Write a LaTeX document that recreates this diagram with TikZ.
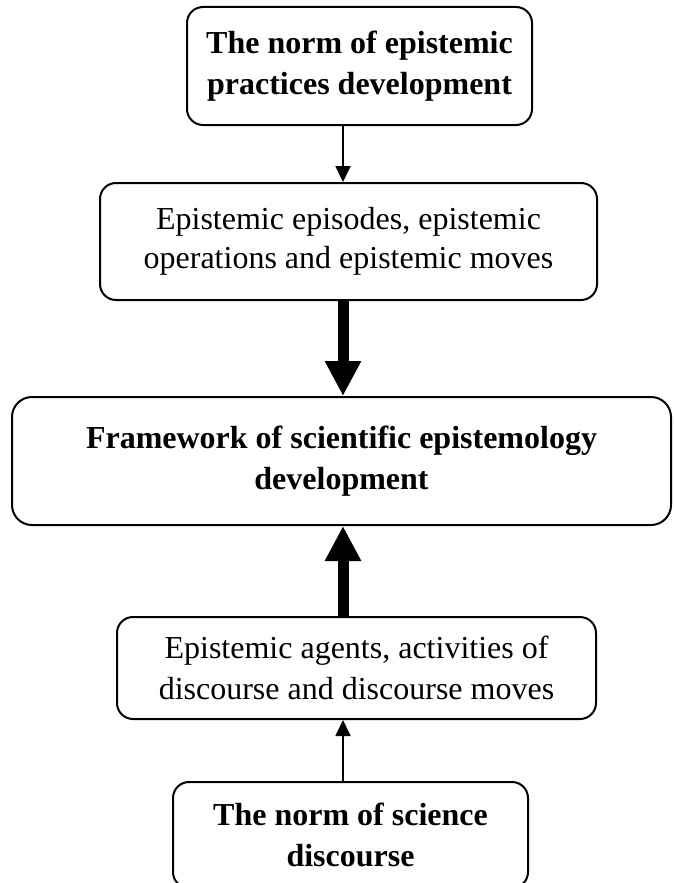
\documentclass[tikz,border=0pt]{standalone}
\usepackage{fontspec}
\setmainfont{Liberation Serif}
\usetikzlibrary{arrows.meta}

\begin{document}
\begin{tikzpicture}[x = 1pt, y = -1pt, font = \fontsize{32}{41}\selectfont]
	\tikzstyle{boxStyle} = [draw, line width = 2pt, rounded corners = 16pt, align = center, inner sep = 0pt]
	\tikzstyle{thinArrow} = [line width = 1.8pt, -{Triangle[length = 16pt, width = 15pt]}]
	\tikzstyle{thickArrow} = [line width = 11pt, -{Triangle[length = 35pt, width = 34pt]}]
	\useasboundingbox (0,0) rectangle (673,883);
	\clip (0,0) rectangle (673,883);
	\coordinate (axis) at (343,0);
	\node[boxStyle, minimum width = 345pt, minimum height = 118pt] (normEpist) at (359.5,66) {\textbf{The norm of epistemic}\\\textbf{practices development}};
	\node[boxStyle, minimum width = 497pt, minimum height = 117pt, font = \fontsize{32}{39}\selectfont] (episodes) at (348.5,241.5) {Epistemic episodes, epistemic\\operations and epistemic moves};
	\node[boxStyle, rounded corners = 20pt, minimum width = 659pt, minimum height = 128pt] (framework) at (341.5,461) {\textbf{Framework of scientific epistemology}\\\textbf{development}};
	\node[boxStyle, minimum width = 479pt, minimum height = 102pt] (agents) at (356.5,668) {Epistemic agents, activities of\\discourse and discourse moves};
	\node[boxStyle, minimum width = 355pt, minimum height = 106pt] (normDisc) at (350.5,835) {\textbf{The norm of science}\\\textbf{discourse}};
	\draw[thinArrow] (normEpist.south -| axis) -- (episodes.north -| axis);
	\draw[thickArrow] (episodes.south -| axis) -- (framework.north -| axis);
	\draw[thickArrow] (agents.north -| axis) -- (framework.south -| axis);
	\draw[thinArrow] (normDisc.north -| axis) -- (agents.south -| axis);
\end{tikzpicture}
\end{document}
